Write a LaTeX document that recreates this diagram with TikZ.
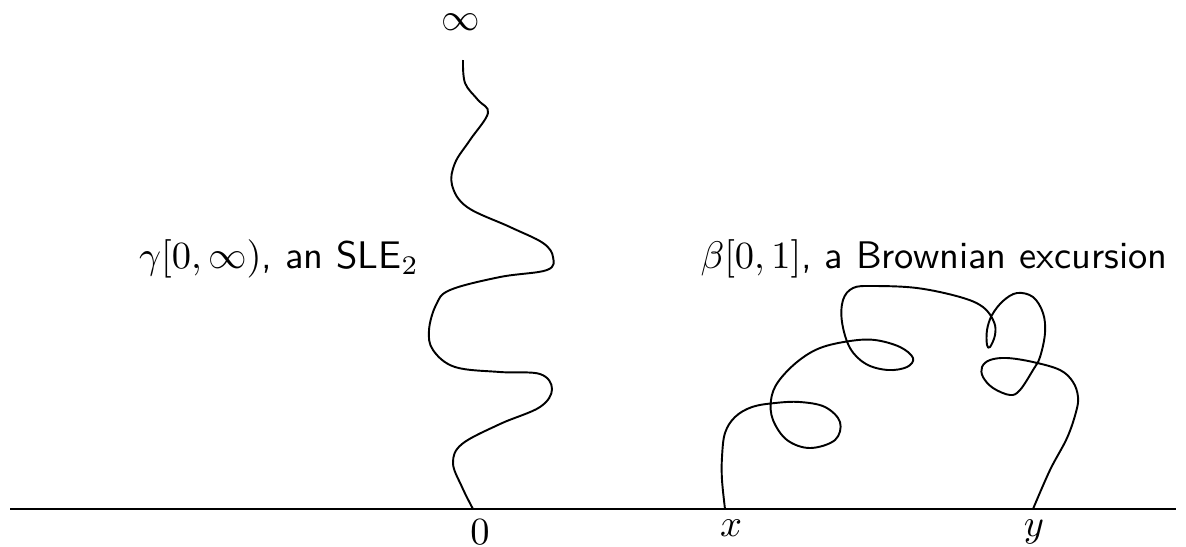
\documentclass[tikz,border=0pt]{standalone}
\begin{document}
\begin{tikzpicture}[x=0.26pt,y=-0.26pt,
  curve/.style={line width=0.5pt, line join=round},
  axis/.style={line width=0.55pt},
  lbl/.style={inner sep=0pt}]
\useasboundingbox (0,0) rectangle (1186,546);
% axis
\coordinate (axL) at (10,509);
\coordinate (axR) at (1176,509);
\draw[axis] (axL) -- (axR);
% labels
\node[lbl, anchor=base] (zero) at (480,544) {$0$};
\node[lbl, anchor=base] (xl) at (731,536) {$x$};
\node[lbl, anchor=base] (yl) at (1034,536) {$y$};
\node[lbl] (inf) at (461,22) {$\infty$};
\node[lbl] (glab) at (279,259) {$\gamma[0,\infty)$\textsf{, an SLE}$_2$};
\node[lbl] (blab) at (934,259) {$\beta[0,1]$\textsf{, a Brownian excursion}};
% SLE curve
\draw[curve] plot[smooth, tension=0.6] coordinates {
 (473,509) (462,487) (453,463) (462,444) (500,424) (540,407) (552,389)
 (540,374) (500,372) (455,367) (433,350) (429,330) (436,305) (450,290)
 (500,277) (547,270) (553,257) (543,243) (510,227) (467,207) (452,185)
 (455,163) (470,140) (488,113) (478,100) (465,83) (463,60)};
% Brownian excursion
\draw[curve] plot[smooth, tension=0.6] coordinates {
 (725,509) (722,480) (722,457) (725,433) (735,417) (752,407) (775,403)
 (800,402) (825,407) (840,422) (835,440) (810,448) (787,440) (773,420)
 (771,400) (778,382) (797,362) (820,348) (850,341) (875,340) (900,347)
 (913,358) (907,367) (888,370) (866,364) (850,348) (842,322) (843,300)
 (853,288) (873,286) (917,288) (960,297) (983,307) (994,322) (995,335)
 (990,347) (987,345) (987,330) (992,315) (1003,301) (1017,293) (1033,297)
 (1043,313) (1045,333) (1040,357) (1033,370) (1020,390) (1010,395)
 (993,388) (983,377) (982,367) (990,360) (1007,358) (1033,362) (1060,370)
 (1073,382) (1078,397) (1076,412) (1067,438) (1050,470) (1033,509)};
\end{tikzpicture}
\end{document}
